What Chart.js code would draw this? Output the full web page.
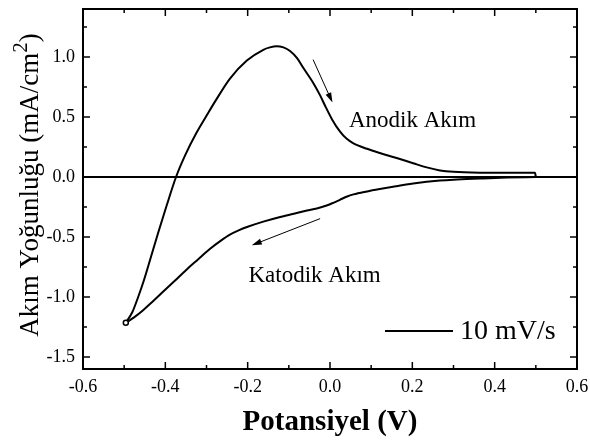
<!DOCTYPE html>
<html>
<head>
<meta charset="utf-8">
<script src="https://cdn.jsdelivr.net/npm/chart.js@4/dist/chart.umd.min.js"></script>
<style>
html, body { margin: 0; padding: 0; background: #fff; }
</style>
</head>
<body>
<canvas id="cv" width="590" height="443"></canvas>
<script>
// forward (anodic) scan, from -0.5 V up to 0.5 V
var anodikX = [-0.496, -0.480, -0.466, -0.452, -0.437, -0.417, -0.397, -0.374, -0.352, -0.324, -0.300, -0.279, -0.243, -0.202, -0.162, -0.146, -0.130, -0.113, -0.097, -0.080, -0.065, -0.040, -0.024, -0.010, 0.005, 0.024, 0.040, 0.057, 0.090, 0.121, 0.160, 0.202, 0.235, 0.267, 0.300, 0.364, 0.430, 0.498, 0.500];
var anodikY = [-1.215, -1.125, -1.00, -0.86, -0.69, -0.46, -0.24, 0.0, 0.18, 0.37, 0.51, 0.63, 0.82, 0.97, 1.06, 1.08, 1.09, 1.08, 1.05, 0.99, 0.91, 0.78, 0.68, 0.58, 0.48, 0.38, 0.32, 0.28, 0.235, 0.20, 0.16, 0.115, 0.08, 0.055, 0.043, 0.036, 0.035, 0.036, 0.0];
// reverse (cathodic) scan, back to -0.5 V
var katodikX = [0.500, 0.430, 0.364, 0.300, 0.267, 0.202, 0.160, 0.121, 0.090, 0.057, 0.040, 0.024, 0.008, -0.010, -0.032, -0.056, -0.081, -0.121, -0.162, -0.200, -0.222, -0.243, -0.265, -0.292, -0.320, -0.348, -0.377, -0.405, -0.430, -0.454, -0.476, -0.496];
var katodikY = [0.0, -0.005, -0.013, -0.022, -0.03, -0.055, -0.077, -0.10, -0.12, -0.145, -0.165, -0.19, -0.215, -0.24, -0.262, -0.28, -0.30, -0.333, -0.372, -0.415, -0.445, -0.48, -0.53, -0.60, -0.685, -0.77, -0.865, -0.955, -1.035, -1.11, -1.17, -1.215];

var zeroX = [-0.6, 0.6];
var zeroY = [0, 0];

var xTicks = [-0.6, -0.4, -0.2, 0.0, 0.2, 0.4, 0.6];
var xMinor = [-0.5, -0.3, -0.1, 0.1, 0.3, 0.5];
var yTicks = [-1.5, -1.0, -0.5, 0.0, 0.5, 1.0];
var yMinor = [-1.25, -0.75, -0.25, 0.25, 0.75, 1.25];

var seriesLabel = '10 mV/s';

var serif = "'Liberation Serif', 'Times New Roman', serif";

function toPoints(xs, ys) {
    return xs.map(function (x, i) { return {x: x, y: ys[i]}; });
}

// frame, inward ticks, y title, arrows, notes and the legend
var decor = {
    id: 'decor',
    afterDraw: function (chart) {
        var ctx = chart.ctx, a = chart.chartArea;
        var sx = chart.scales.x, sy = chart.scales.y;
        ctx.save();
        ctx.strokeStyle = '#000';
        ctx.fillStyle = '#000';
        ctx.lineWidth = 2;
        ctx.strokeRect(a.left, a.top, a.right - a.left, a.bottom - a.top);

        function seg(x0, y0, x1, y1) {
            ctx.beginPath(); ctx.moveTo(x0, y0); ctx.lineTo(x1, y1); ctx.stroke();
        }
        ctx.lineWidth = 1.5;
        function xt(v, len) {
            var p = sx.getPixelForValue(v);
            seg(p, a.bottom, p, a.bottom - len);
            seg(p, a.top, p, a.top + len);
        }
        function yt(v, len) {
            var p = sy.getPixelForValue(v);
            seg(a.left, p, a.left + len, p);
            seg(a.right, p, a.right - len, p);
        }
        xTicks.forEach(function (v) { xt(v, 7); });
        xMinor.forEach(function (v) { xt(v, 4); });
        yTicks.forEach(function (v) { yt(v, 7); });
        yMinor.forEach(function (v) { yt(v, 4); });

        // y axis title with a real superscript
        var main = 'Akım Yoğunluğu (mA/cm', sup = '2', close = ')';
        var fMain = '27px ' + serif, fSup = '21px ' + serif;
        ctx.font = fMain;
        var w1 = ctx.measureText(main).width, w3 = ctx.measureText(close).width;
        ctx.font = fSup;
        var w2 = ctx.measureText(sup).width;
        var total = w1 + w2 + w3;
        ctx.save();
        ctx.translate(38, (a.top + a.bottom) / 2 - 4);
        ctx.rotate(-Math.PI / 2);
        ctx.textBaseline = 'alphabetic';
        ctx.textAlign = 'left';
        var x = -total / 2;
        ctx.font = fMain;
        ctx.fillText(main, x, 0);
        ctx.font = fSup;
        ctx.fillText(sup, x + w1, -11);
        ctx.font = fMain;
        ctx.fillText(close, x + w1 + w2, 0);
        ctx.restore();

        function arrow(p) {
            var x0 = sx.getPixelForValue(p[0]), y0 = sy.getPixelForValue(p[1]);
            var x1 = sx.getPixelForValue(p[2]), y1 = sy.getPixelForValue(p[3]);
            var ang = Math.atan2(y1 - y0, x1 - x0);
            ctx.lineWidth = 1;
            seg(x0, y0, x1 - 6 * Math.cos(ang), y1 - 6 * Math.sin(ang));
            ctx.beginPath();
            ctx.moveTo(x1, y1);
            ctx.lineTo(x1 - 10 * Math.cos(ang) + 3 * Math.sin(ang), y1 - 10 * Math.sin(ang) - 3 * Math.cos(ang));
            ctx.lineTo(x1 - 10 * Math.cos(ang) - 3 * Math.sin(ang), y1 - 10 * Math.sin(ang) + 3 * Math.cos(ang));
            ctx.closePath();
            ctx.fill();
        }
        arrow([-0.041, 0.978, 0.006, 0.62]);
        arrow([-0.024, -0.347, -0.190, -0.569]);

        ctx.font = '23px ' + serif;
        ctx.textBaseline = 'alphabetic';
        ctx.textAlign = 'left';
        ctx.fillText('Anodik Akım', sx.getPixelForValue(0.046), sy.getPixelForValue(0.42));
        ctx.fillText('Katodik Akım', sx.getPixelForValue(-0.198), sy.getPixelForValue(-0.875));

        // legend entry
        ctx.lineWidth = 2;
        seg(385, 331, 453, 331);
        ctx.font = '28px ' + serif;
        ctx.fillText(chart.data.datasets[0].label, 460, 339);
        ctx.restore();
    }
};

function noPad(s) {
    s.paddingTop = 0; s.paddingBottom = 0; s.paddingLeft = 0; s.paddingRight = 0;
}

new Chart(document.getElementById('cv').getContext('2d'), {
    type: 'scatter',
    data: {
        datasets: [{
            label: seriesLabel,
            data: toPoints(anodikX, anodikY),
            showLine: true,
            borderColor: '#000',
            borderWidth: 2,
            cubicInterpolationMode: 'monotone',
            pointRadius: function (c) { return c.dataIndex === 0 ? 2.5 : 0; },
            pointBorderColor: '#000',
            pointBackgroundColor: '#fff',
            pointBorderWidth: 1.5
        }, {
            label: seriesLabel,
            data: toPoints(katodikX, katodikY),
            showLine: true,
            borderColor: '#000',
            borderWidth: 2,
            cubicInterpolationMode: 'monotone',
            pointRadius: 0
        }, {
            label: 'zero',
            data: toPoints(zeroX, zeroY),
            showLine: true,
            borderColor: '#000',
            borderWidth: 2,
            pointRadius: 0
        }]
    },
    options: {
        responsive: false,
        animation: false,
        devicePixelRatio: 1,
        layout: {padding: {top: 9, right: 13, left: 0, bottom: 0}},
        plugins: {legend: {display: false}, tooltip: {enabled: false}},
        scales: {
            x: {
                type: 'linear',
                min: -0.6,
                max: 0.6,
                afterBuildTicks: function (s) { s.ticks = xTicks.map(function (v) { return {value: v}; }); },
                afterFit: function (s) { s.height = 74; noPad(s); },
                grid: {display: false, drawTicks: false},
                border: {display: false},
                ticks: {
                    color: '#000',
                    padding: 7,
                    maxRotation: 0,
                    font: {family: serif, size: 18},
                    callback: function (v) { return Number(v).toFixed(1); }
                },
                title: {
                    display: true,
                    text: 'Potansiyel (V)',
                    color: '#000',
                    font: {family: serif, size: 29, weight: 'bold'},
                    padding: {top: 0, bottom: 3}
                }
            },
            y: {
                type: 'linear',
                min: -1.6,
                max: 1.4,
                afterBuildTicks: function (s) { s.ticks = yTicks.map(function (v) { return {value: v}; }); },
                afterFit: function (s) { s.width = 83; noPad(s); },
                grid: {display: false, drawTicks: false},
                border: {display: false},
                ticks: {
                    color: '#000',
                    padding: 8,
                    font: {family: serif, size: 18},
                    callback: function (v) { return Number(v).toFixed(1); }
                }
            }
        }
    },
    plugins: [decor]
});
</script>
</body>
</html>
